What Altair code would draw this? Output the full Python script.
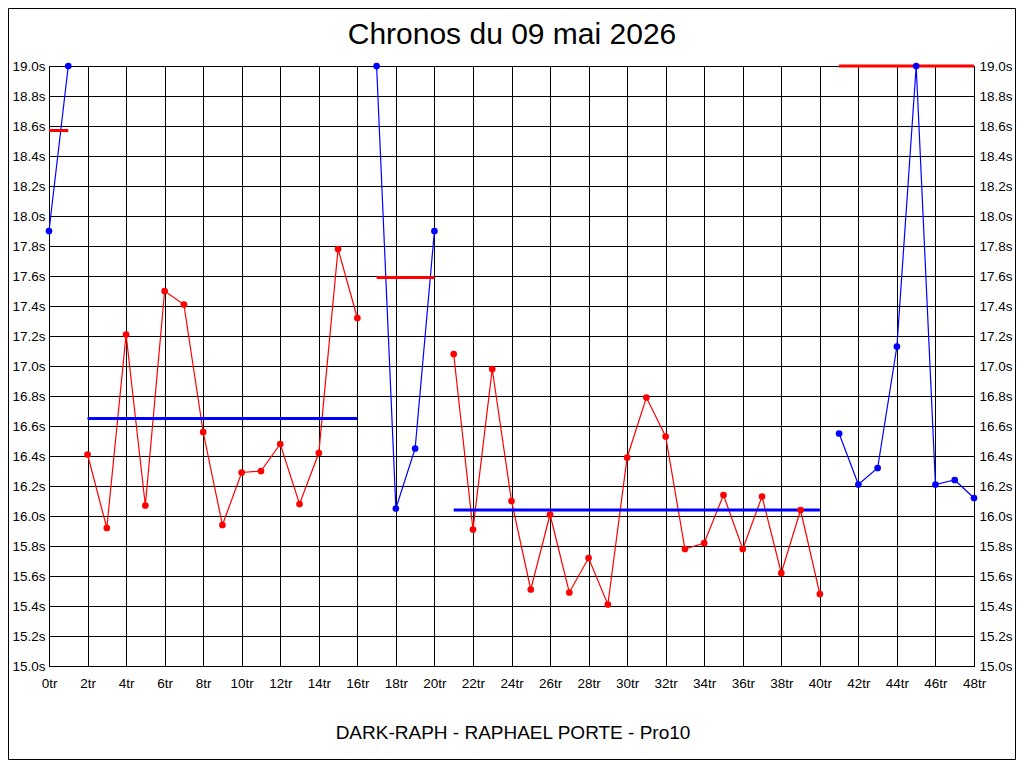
import altair as alt
import pandas as pd

# ---- data ----
laps = list(range(49))
times = [17.90, 19.00,
         16.41, 15.92, 17.21, 16.07, 17.50, 17.41, 16.56, 15.94, 16.29, 16.30, 16.48, 16.08, 16.42, 17.78, 17.32,
         19.00, 16.05, 16.45, 17.90,
         17.08, 15.91, 16.98, 16.10, 15.51, 16.01, 15.49, 15.72, 15.41, 16.39, 16.79, 16.53, 15.78, 15.82, 16.14,
         15.78, 16.13, 15.62, 16.04, 15.48,
         16.55, 16.21, 16.32, 17.13, 19.00, 16.21, 16.24, 16.12]
seg_sizes = [2, 15, 4, 20, 8]
seg_colors = ["#0000ff", "#ff0000", "#0000ff", "#ff0000", "#0000ff"]

avg_start = [0, 2, 17, 21, 41]
avg_end = [1, 16, 20, 40, 48]
avg_values = [18.57, 16.65, 17.59, 16.04, 19.00]
avg_colors = ["#ff0000", "#0000ff", "#ff0000", "#0000ff", "#ff0000"]

title_text = "Chronos du 09 mai 2026"
footer_text = "DARK-RAPH - RAPHAEL PORTE - Pro10"

seg, col = [], []
for i, n in enumerate(seg_sizes):
    seg += [i] * n
    col += [seg_colors[i]] * n

df = pd.DataFrame({"lap": laps, "t": times, "seg": seg, "col": col})
avg_df = pd.DataFrame({"x": avg_start, "x2": avg_end, "y": avg_values, "col": avg_colors})

FONT = "Liberation Sans"
LFS = 13.5
W, H = 925, 600

xscale = alt.Scale(domain=[0, 48], nice=False, zero=False)
yscale = alt.Scale(domain=[15.0, 19.0], nice=False, zero=False)

xaxis = alt.Axis(values=list(range(0, 49, 2)), labelExpr="datum.value + 'tr'", grid=True,
                 gridColor="black", gridOpacity=1, gridWidth=1, ticks=False, tickSize=0,
                 domain=False, labelPadding=10, labelFont=FONT, labelFontSize=LFS,
                 labelColor="black", title=None, labelFlush=False, labelOverlap=False,
                 orient="bottom")

yvals = [round(15.0 + 0.2 * i, 1) for i in range(21)]
yaxis_left = alt.Axis(values=yvals, labelExpr="format(datum.value, '.1f') + 's'", grid=True,
                      gridColor="black", gridOpacity=1, gridWidth=1, ticks=False, tickSize=0,
                      domain=False, labelPadding=4, labelFont=FONT, labelFontSize=LFS,
                      labelColor="black", title=None, orient="left", labelFlush=False,
                      labelOverlap=False)
yaxis_right = alt.Axis(values=yvals, labelExpr="format(datum.value, '.1f') + 's'", grid=False,
                       ticks=False, tickSize=0, domain=False, labelPadding=5, labelFont=FONT,
                       labelFontSize=LFS, labelColor="black", title=None, orient="right",
                       labelFlush=False, labelOverlap=False)

lines = alt.Chart(df).mark_line(strokeWidth=1.2).encode(
    x=alt.X("lap:Q", scale=xscale, axis=xaxis),
    y=alt.Y("t:Q", scale=yscale, axis=yaxis_left),
    color=alt.Color("col:N", scale=None),
    detail="seg:N",
)

rules = alt.Chart(avg_df).mark_rule(strokeWidth=3).encode(
    x=alt.X("x:Q", scale=xscale, axis=xaxis),
    x2="x2:Q",
    y=alt.Y("y:Q", scale=yscale, axis=yaxis_right),
    color=alt.Color("col:N", scale=None),
)

points = alt.Chart(df).mark_circle(size=45, opacity=1).encode(
    x=alt.X("lap:Q", scale=xscale, axis=xaxis),
    y=alt.Y("t:Q", scale=yscale, axis=None),
    color=alt.Color("col:N", scale=None),
)

title = alt.Chart(pd.DataFrame({"s": [title_text]})).mark_text(
    font=FONT, fontSize=30, color="black", align="center", baseline="alphabetic"
).encode(text="s:N", x=alt.value(463), y=alt.value(-22))

footer = alt.Chart(pd.DataFrame({"s": [footer_text]})).mark_text(
    font=FONT, fontSize=19, color="black", align="center", baseline="alphabetic"
).encode(text="s:N", x=alt.value(464), y=alt.value(673))

border = alt.Chart(pd.DataFrame({"a": [0]})).mark_rect(
    fill="transparent", stroke="black", strokeWidth=1
).encode(x=alt.value(-40.5), x2=alt.value(966.5), y=alt.value(-57.5), y2=alt.value(693.5))

chart = alt.layer(lines, rules, points, title, footer, border).resolve_axis(
    y="independent"
).properties(
    width=W, height=H,
    autosize=alt.AutoSizeParams(type="none"),
    padding={"left": 41, "top": 58, "right": 42, "bottom": 94},
    background="white",
).configure_view(stroke="black", strokeWidth=1)

chart.save("out.html", embed_options={"renderer": "svg", "actions": False})
